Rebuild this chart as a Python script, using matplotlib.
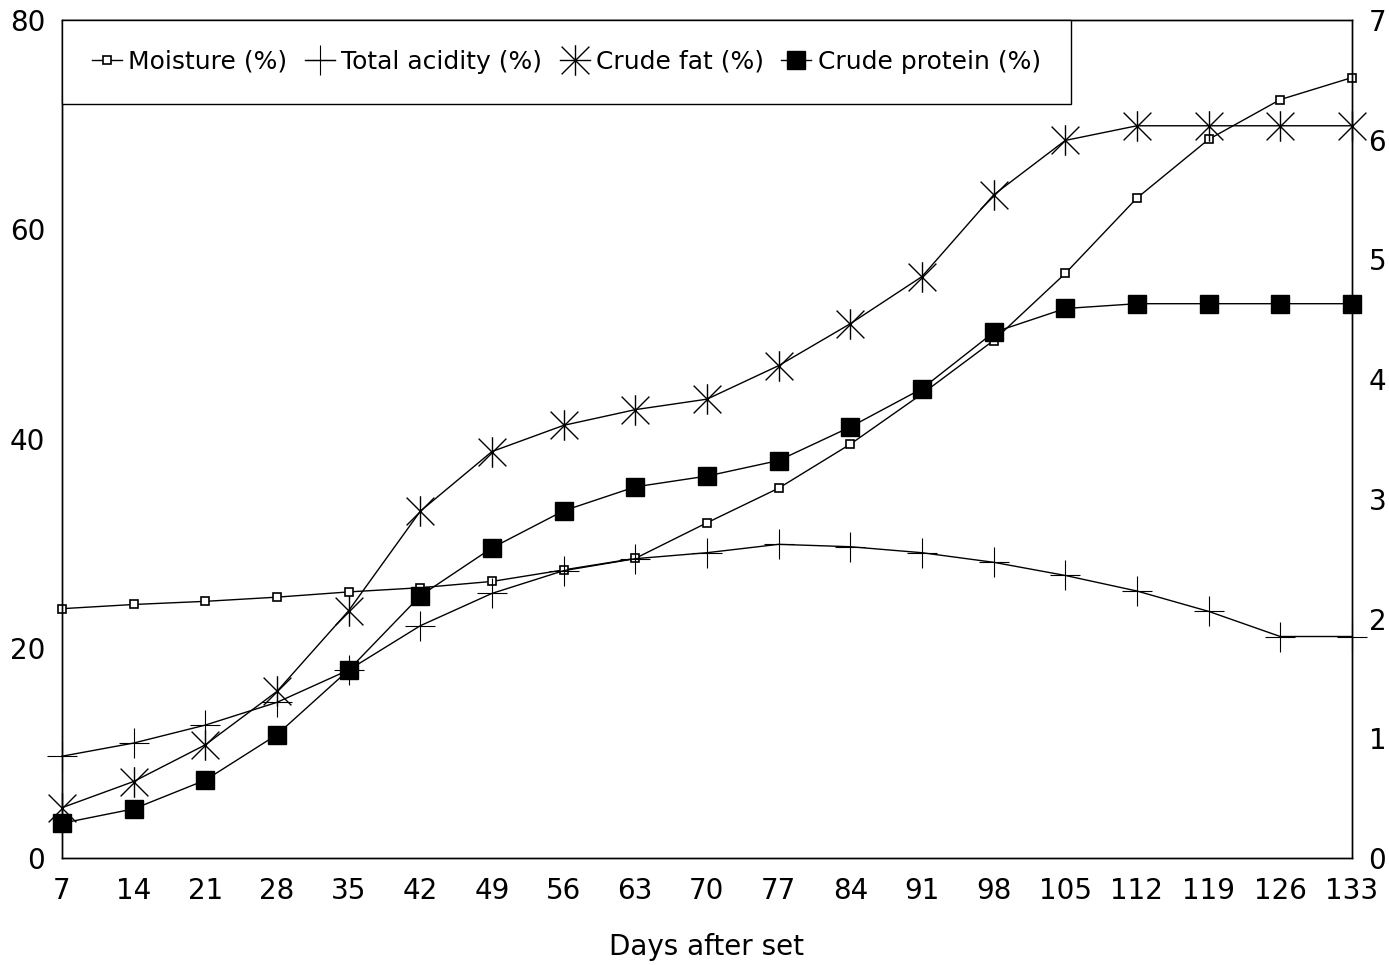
import numpy as np
import matplotlib.pyplot as plt
from matplotlib.path import Path

plt.rcParams['font.family'] = ['DejaVu Sans']

days = [7, 14, 21, 28, 35, 42, 49, 56, 63, 70, 77, 84, 91, 98, 105, 112, 119, 126, 133]

# left axis (%)
moisture = [23.8, 24.2, 24.5, 24.9, 25.4, 25.8, 26.4, 27.5, 28.6, 32.0, 35.3, 39.5,
            44.3, 49.4, 55.8, 63.0, 68.6, 72.4, 74.5]
crude_fat = [4.8, 7.3, 10.8, 15.9, 23.6, 33.1, 38.8, 41.3, 42.8, 43.8, 47.0, 51.0,
             55.5, 63.3, 68.5, 69.9, 69.9, 69.9, 69.9]

# right axis (%)
total_acidity = [0.85, 0.96, 1.11, 1.30, 1.57, 1.94, 2.21, 2.40, 2.50, 2.55, 2.62, 2.60,
                 2.55, 2.47, 2.36, 2.23, 2.06, 1.85, 1.85]
crude_protein = [0.29, 0.41, 0.65, 1.03, 1.57, 2.19, 2.59, 2.90, 3.10, 3.19, 3.32, 3.60,
                 3.92, 4.39, 4.59, 4.63, 4.63, 4.63, 4.63]

# asterisk marker: X with a vertical stroke
star = Path([(-1, -1), (1, 1), (-1, 1), (1, -1), (0, -1.1), (0, 1.1)],
            [Path.MOVETO, Path.LINETO, Path.MOVETO, Path.LINETO, Path.MOVETO, Path.LINETO])

fig = plt.figure(figsize=(13.89, 9.65), dpi=100)
ax = fig.add_axes([0.0446, 0.1109, 0.9287, 0.8684])
ax2 = ax.twinx()

lw = 1.0
l1, = ax.plot(days, moisture, color='black', lw=lw, marker='s', ms=6,
              mfc='white', mec='black', mew=1.2, label='Moisture (%)', clip_on=False)
l2, = ax2.plot(days, total_acidity, color='black', lw=lw, marker='+', ms=22,
               mew=0.8, label='Total acidity (%)', clip_on=False)
l3, = ax.plot(days, crude_fat, color='black', lw=lw, marker=star, ms=22,
              mfc='none', mec='black', mew=1.0, label='Crude fat (%)', clip_on=False)
l4, = ax2.plot(days, crude_protein, color='black', lw=lw, marker='s', ms=12.5,
               mfc='black', mec='black', label='Crude protein (%)', clip_on=False)

ax.set_xlim(7, 133)
ax.set_ylim(0, 80)
ax2.set_ylim(0, 7)
ax.set_xticks(days)
ax.set_yticks([0, 20, 40, 60, 80])
ax2.set_yticks(range(0, 8))

ax.tick_params(axis='both', length=0, labelsize=20, pad=14)
ax2.tick_params(axis='y', length=0, labelsize=20, pad=12)
ax.tick_params(axis='y', pad=12)

for a in (ax, ax2):
    for s in a.spines.values():
        s.set_linewidth(1.0)
        s.set_color('black')

ax.set_xlabel('Days after set', fontsize=20, labelpad=20)

leg = ax2.legend(handles=[l1, l2, l3, l4], loc='upper left', bbox_to_anchor=(0, 1),
                 ncol=4, fontsize=18, frameon=True, fancybox=False, edgecolor='black',
                 borderaxespad=0, borderpad=1.2, handlelength=1.2, handletextpad=0.25,
                 columnspacing=0.7, markerscale=1.0)
leg.get_frame().set_linewidth(1.0)
leg.get_frame().set_alpha(1)

fig.savefig('out.png', dpi=100)
